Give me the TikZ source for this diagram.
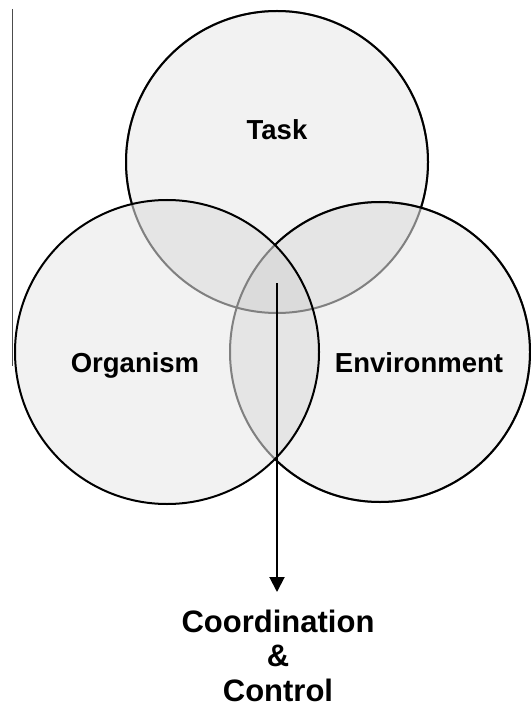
\documentclass[tikz,border=0pt]{standalone}
\usepackage{fontspec}
\setmainfont{Liberation Sans}
\usetikzlibrary{positioning,arrows.meta}

\begin{document}
\begin{tikzpicture}[x=1pt,y=-1pt,
  venn/.style={circle,minimum size=#1,inner sep=0pt,outer sep=0pt},
  lbl/.style={font=\fontsize{27.5}{30}\selectfont\bfseries,anchor=base,inner sep=0pt},
  outlbl/.style={font=\fontsize{31}{34.5}\selectfont\bfseries,align=center,anchor=north,inner xsep=0pt,inner ysep=17.4pt},
  rim/.style={line width=2pt},
  arr/.style={-{Triangle[length=15pt,width=15pt]},line width=2pt}]
\useasboundingbox (0,0) rectangle (530,708);
% the three circles
\node[venn=302pt] (task) at (277,162) {};
\node[venn=304pt] (org) at (167,352) {};
\node[venn=300pt] (env) at (380,352) {};
% shading of the regions
\fill[black!5] (task.center) circle (151pt) (org.center) circle (152pt) (env.center) circle (150pt);
\begin{scope}
  \clip (task.center) circle (151pt);
  \fill[black!10] (org.center) circle (152pt) (env.center) circle (150pt);
\end{scope}
\begin{scope}
  \clip (org.center) circle (152pt);
  \fill[black!10] (env.center) circle (150pt);
\end{scope}
\begin{scope}
  \clip (task.center) circle (151pt);
  \clip (org.center) circle (152pt);
  \fill[black!14] (env.center) circle (150pt);
\end{scope}
% rims: grey inside, black outside
\draw[rim,black!50] (task.center) circle (151pt) (env.center) circle (150pt);
\begin{scope}[even odd rule]
  \clip (-10,-10) rectangle (540,720) (org.center) circle (152pt);
  \draw[rim] (env.center) circle (150pt);
  \clip (-10,-10) rectangle (540,720) (env.center) circle (150pt);
  \draw[rim] (task.center) circle (151pt);
\end{scope}
\draw[rim] (org.center) circle (152pt);
% labels
\node[lbl] (tasklbl) at (277,140) {Task};
\node[lbl] (orglbl) at (135,372) {Organism};
\node[lbl] (envlbl) at (419,372) {Environment};
\node[outlbl] (cc) at (278,592) {Coordination\\\&\\Control};
% arrow
\coordinate (start) at (277,283);
\draw[arr] (start) -- (start |- cc.north);
\draw[black!70,line width=1pt] (12,9) -- (12,366);
\end{tikzpicture}
\end{document}
